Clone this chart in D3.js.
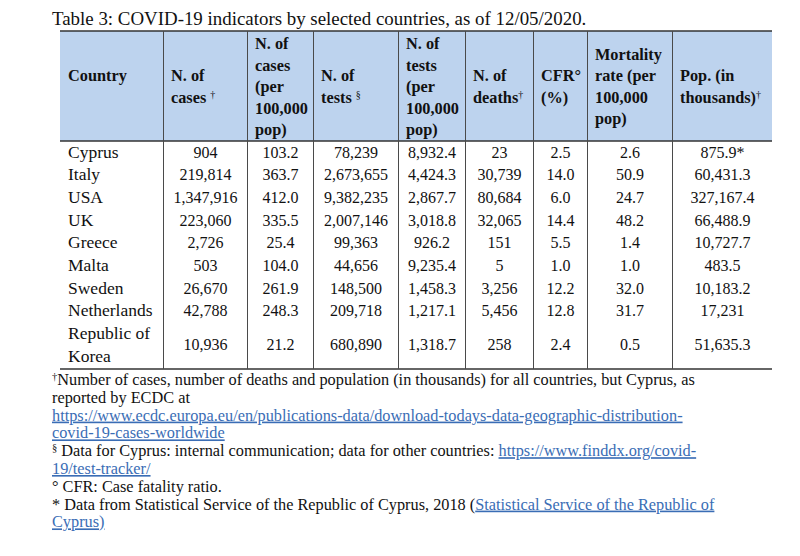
<!DOCTYPE html>
<html>
<head>
<meta charset="utf-8">
<script src="https://cdn.jsdelivr.net/npm/d3@7"></script>
<style>
  html, body { margin: 0; padding: 0; background: #fff; }
  svg { display: block; }
</style>
</head>
<body>
<svg id="chart" width="800" height="556"></svg>
<script>
// ---------------- data ----------------
const title = "Table 3: COVID-19 indicators by selected countries, as of 12/05/2020.";

// header cells: lines, "{x}" marks a superscript
const headers = [
  ["Country", ""],
  ["N. of", "cases {†}"],
  ["N. of", "cases", "(per", "100,000", "pop)"],
  ["N. of", "tests {§}"],
  ["N. of", "tests", "(per", "100,000", "pop)"],
  ["N. of", "deaths{†}"],
  ["CFR°", "(%)"],
  ["Mortality", "rate (per", "100,000", "pop)"],
  ["Pop. (in", "thousands){†}"]
];

const countries = ["Cyprus", "Italy", "USA", "UK", "Greece", "Malta", "Sweden", "Netherlands", "Republic of Korea"];
const countryLines = [["Cyprus"], ["Italy"], ["USA"], ["UK"], ["Greece"], ["Malta"], ["Sweden"], ["Netherlands"], ["Republic of", "Korea"]];
const cases = [904, 219814, 1347916, 223060, 2726, 503, 26670, 42788, 10936];
const casesPer100k = [103.2, 363.7, 412.0, 335.5, 25.4, 104.0, 261.9, 248.3, 21.2];
const tests = [78239, 2673655, 9382235, 2007146, 99363, 44656, 148500, 209718, 680890];
const testsPer100k = [8932.4, 4424.3, 2867.7, 3018.8, 926.2, 9235.4, 1458.3, 1217.1, 1318.7];
const deaths = [23, 30739, 80684, 32065, 151, 5, 3256, 5456, 258];
const cfr = [2.5, 14.0, 6.0, 14.4, 5.5, 1.0, 12.2, 12.8, 2.4];
const mortality = [2.6, 50.9, 24.7, 48.2, 1.4, 1.0, 32.0, 31.7, 0.5];
const population = [875.9, 60431.3, 327167.4, 66488.9, 10727.7, 483.5, 10183.2, 17231, 51635.3];
const populationNotes = ["*", "", "", "", "", "", "", "", ""];

// footnotes: each line is a list of [text, kind] segments (kind: "t" text, "s" superscript, "l" link)
const footnotes = [
  [["†", "s"], ["Number of cases, number of deaths and population (in thousands) for all countries, but Cyprus, as", "t"]],
  [["reported by ECDC at", "t"]],
  [["https://www.ecdc.europa.eu/en/publications-data/download-todays-data-geographic-distribution-", "l"]],
  [["covid-19-cases-worldwide", "l"]],
  [["§", "s"], [" Data for Cyprus: internal communication; data for other countries: ", "t"], ["https://www.finddx.org/covid-", "l"]],
  [["19/test-tracker/", "l"]],
  [["° CFR: Case fatality ratio.", "t"]],
  [["* Data from Statistical Service of the Republic of Cyprus, 2018 (", "t"], ["Statistical Service of the Republic of", "l"]],
  [["Cyprus)", "l"]]
];

// ---------------- layout ----------------
const svg = d3.select("#chart");
const serif = "'Liberation Serif', 'Times New Roman', serif";
const colEdges = [60, 163, 247, 313, 398, 465, 533, 587, 672, 772];
const headerTop = 31, headerBottom = 141, tableBottom = 369;
const headerFill = "#bdd3ee";
const lineColor = "#4a4a4a";
const linkColor = "#3a6db5";

const fmtInt = d3.format(",");
const fmt1 = d3.format(",.1f");
const fmtPop = d => Number.isInteger(d) ? fmtInt(d) : fmt1(d);

const columns = [
  null,
  cases.map(fmtInt),
  casesPer100k.map(fmt1),
  tests.map(fmtInt),
  testsPer100k.map(fmt1),
  deaths.map(fmtInt),
  cfr.map(fmt1),
  mortality.map(fmt1),
  population.map((d, i) => fmtPop(d) + populationNotes[i])
];

// column scale (index -> left edge)
const xCol = d3.scaleOrdinal().domain(d3.range(colEdges.length)).range(colEdges);
// body line scale (line index -> center y)
const yLine = d3.scaleLinear().domain([0, 1]).range([152, 174.7]);
// header line scale
const headerCenter = (headerTop + headerBottom) / 2 + 0.5;
const headerLineH = 21.5;

// title
svg.append("text")
  .attr("x", 52).attr("y", 25)
  .attr("font-family", serif).attr("font-size", 18.9)
  .attr("fill", "#111")
  .text(title);

// header background
svg.append("rect")
  .attr("x", xCol(0)).attr("y", headerTop)
  .attr("width", xCol(9) - xCol(0)).attr("height", headerBottom - headerTop)
  .attr("fill", headerFill);

// horizontal rules
[headerTop, headerBottom, tableBottom].forEach(y => {
  svg.append("line")
    .attr("x1", xCol(0)).attr("x2", xCol(9))
    .attr("y1", y).attr("y2", y)
    .attr("stroke", "#333").attr("stroke-width", 1.4);
});

// vertical rules (inner)
d3.range(1, 9).forEach(i => {
  svg.append("line")
    .attr("x1", xCol(i) + 0.5).attr("x2", xCol(i) + 0.5)
    .attr("y1", headerTop).attr("y2", tableBottom)
    .attr("stroke", lineColor).attr("stroke-width", 1);
});

// rich text: segments [text, kind]; superscripts raise by 5px, next segment restores
function addSegments(textSel, segs, supSize) {
  let pendingDy = 0;
  segs.forEach(([txt, kind]) => {
    const ts = textSel.append("tspan").text(txt);
    if (kind === "s") {
      ts.attr("font-size", supSize).attr("font-weight", "normal").attr("dy", -5 + pendingDy);
      pendingDy = 5;
    } else {
      if (pendingDy) ts.attr("dy", pendingDy);
      pendingDy = 0;
      if (kind === "l") ts.attr("fill", linkColor).style("text-decoration", "underline");
    }
  });
}
function parseHeader(str) {
  return str.split(/(\{[^}]*\})/).filter(s => s.length)
    .map(p => p.startsWith("{") ? [p.slice(1, -1), "s"] : [p, "t"]);
}

// header text
headers.forEach((lines, c) => {
  const n = lines.length;
  lines.forEach((ln, k) => {
    if (!ln) return;
    const cy = headerCenter + (k - (n - 1) / 2) * headerLineH;
    const t = svg.append("text")
      .attr("x", xCol(c) + 8).attr("y", cy + 5.5)
      .attr("font-family", serif).attr("font-size", 16.3).attr("font-weight", "bold")
      .attr("fill", "#111");
    addSegments(t, parseHeader(ln), 10);
  });
});

// body
let lineIdx = 0;
countryLines.forEach((cl, r) => {
  const nL = cl.length;
  const center = yLine(lineIdx + (nL - 1) / 2);
  cl.forEach((ln, k) => {
    svg.append("text")
      .attr("x", xCol(0) + 8).attr("y", yLine(lineIdx + k) + 5.5)
      .attr("font-family", serif).attr("font-size", 17.5)
      .attr("fill", "#111").text(ln);
  });
  for (let c = 1; c < 9; c++) {
    svg.append("text")
      .attr("x", (xCol(c) + xCol(c + 1)) / 2 + 0.5).attr("y", center + 5.5)
      .attr("text-anchor", "middle")
      .attr("font-family", serif).attr("font-size", 16)
      .attr("fill", "#111").text(columns[c][r]);
  }
  lineIdx += nL;
});

// footnotes
const fnY = d3.scaleLinear().domain([0, 1]).range([385, 402.8]);
footnotes.forEach((segs, i) => {
  const t = svg.append("text")
    .attr("x", 52).attr("y", fnY(i))
    .attr("font-family", serif).attr("font-size", 16.3)
    .attr("fill", "#111");
  addSegments(t, segs, 10.5);
});
</script>
</body>
</html>
